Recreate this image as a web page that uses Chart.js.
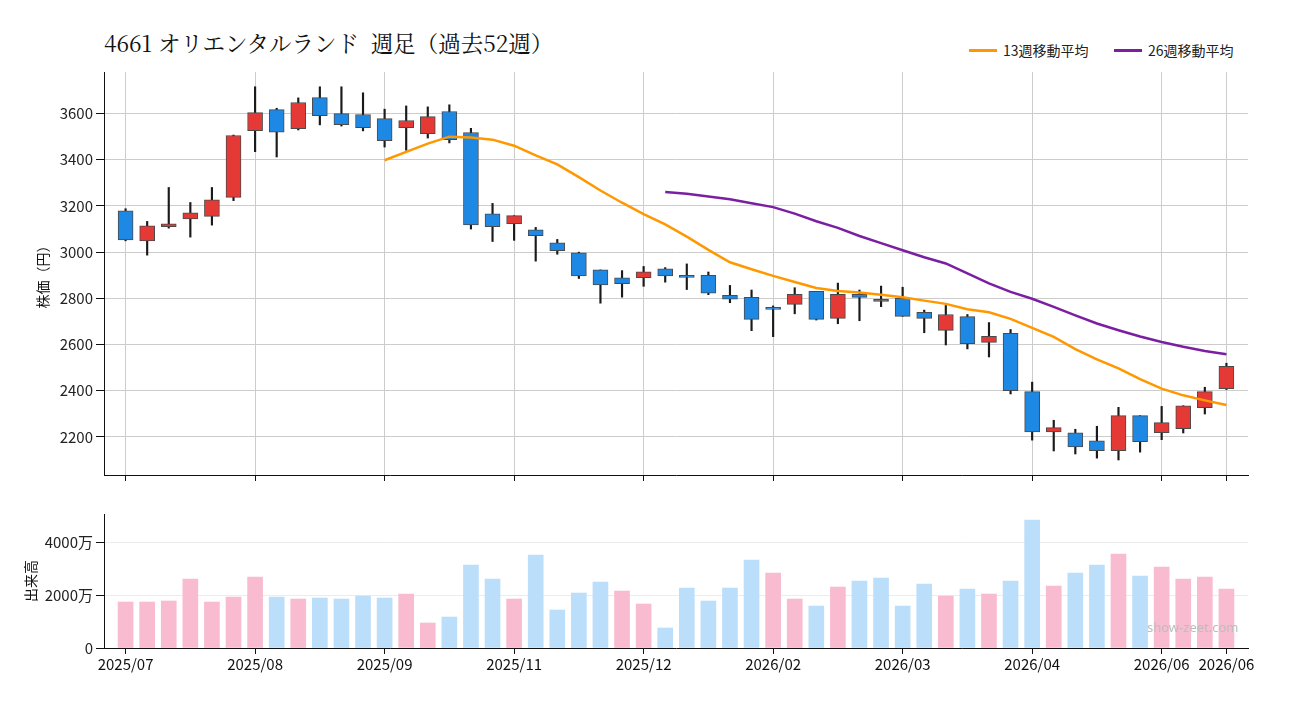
<!DOCTYPE html>
<html>
<head>
<meta charset="utf-8">
<script src="https://cdn.jsdelivr.net/npm/chart.js@4.4.0/dist/chart.umd.min.js"></script>
<style>
  body { margin: 0; background: #fff; width: 1300px; height: 720px; position: relative; overflow: hidden; }
  canvas { position: absolute; left: 0; }
  #title { position: absolute; left: 104px; top: 31px; font-size: 22.5px; line-height: 22px; color: #111; white-space: pre;
           font-family: "Noto Serif CJK JP", "Liberation Serif", "DejaVu Serif", "Noto Sans CJK JP", serif; }
  .leg { position: absolute; top: 40px; display: flex; align-items: center; font: 14px "Noto Sans CJK JP", sans-serif; color: #222; }
  .leg span { display: inline-block; width: 28px; height: 3px; margin-right: 6px; }
  #mark { position: absolute; left: 1147px; top: 618px; font: 13px "Noto Sans", sans-serif; color: #bdbdbd; }
</style>
</head>
<body>
<div id="title">4661 オリエンタルランド  週足（過去52週）</div>
<div class="leg" style="left:969px"><span style="background:#ff9800"></span>13週移動平均</div>
<div class="leg" style="left:1114px"><span style="background:#7b1fa2"></span>26週移動平均</div>
<canvas id="price" width="1300" height="500" style="top:0"></canvas>
<canvas id="vol" width="1300" height="220" style="top:500px"></canvas>
<div id="mark">show-zeet.com</div>
<script>
// weekly candles, oldest first
const opens  = [3179,3049,3110,3144,3155,3237,3526,3617,3535,3669,3600,3596,3578,3539,3513,3609,3518,3166,3123,3097,3040,2997,2923,2889,2889,2928,
                2900,2900,2813,2804,2761,2774,2830,2713,2817,2787,2800,2739,2661,2721,2609,2648,2396,2222,2218,2183,2140,2292,2218,2236,2327,2409];
const closes = [3053,3114,3123,3170,3227,3505,3604,3519,3648,3591,3552,3539,3483,3570,3587,3487,3118,3110,3158,3071,3006,2897,2858,2863,2915,2897,
                2891,2822,2796,2709,2752,2817,2709,2817,2804,2787,2722,2713,2730,2604,2635,2400,2222,2240,2157,2140,2292,2179,2262,2335,2396,2506];
const highs  = [3188,3133,3280,3215,3280,3507,3716,3623,3668,3716,3716,3690,3619,3633,3629,3638,3536,3211,3158,3107,3055,3000,2923,2920,2938,2933,
                2949,2914,2856,2836,2767,2846,2830,2866,2836,2853,2848,2749,2769,2730,2695,2665,2437,2272,2233,2246,2328,2292,2332,2335,2415,2519];
const lows   = [3049,2987,3104,3065,3117,3223,3435,3412,3529,3551,3546,3525,3455,3441,3494,3473,3100,3046,3051,2961,2991,2886,2779,2805,2852,2870,
                2838,2816,2781,2660,2634,2733,2706,2690,2703,2764,2722,2651,2598,2581,2546,2386,2186,2139,2126,2108,2100,2134,2188,2217,2299,2405];
// volume, in 万 shares
const vols   = [1736,1736,1774,2604,1736,1925,2680,1925,1849,1887,1849,1962,1887,2038,944,1170,3132,2604,1849,3510,1434,2076,2491,2151,1661,755,
                2264,1774,2264,3321,2830,1849,1585,2302,2529,2642,1585,2415,1962,2227,2038,2529,4831,2340,2830,3132,3548,2717,3057,2604,2680,2227];
const ma13 = [null,null,null,null,null,null,null,null,null,null,null,null,3398,3434,3470,3500,3496,3487,3461,3419,3380,3325,3267,3214,3165,3120,
              3067,3010,2956,2926,2897,2871,2845,2832,2825,2816,2805,2790,2776,2753,2740,2711,2672,2633,2580,2536,2497,2450,2409,2380,2358,2338];
const ma26 = [null,null,null,null,null,null,null,null,null,null,null,null,null,null,null,null,null,null,null,null,null,null,null,null,null,3260,
              3253,3241,3229,3212,3195,3167,3134,3105,3070,3039,3008,2978,2951,2908,2865,2828,2798,2763,2726,2691,2662,2635,2611,2590,2572,2558];

const tickIdx    = [0, 6, 12, 18, 24, 30, 36, 42, 48, 51];
const tickLabels = ['2025/07','2025/08','2025/09','2025/11','2025/12','2026/02','2026/03','2026/04','2026/06','2026/06'];
const priceTicks = [2200, 2400, 2600, 2800, 3000, 3200, 3400, 3600];
const volTicks   = [0, 2000, 4000];

const FONT = '"Noto Sans CJK JP", "Noto Sans", sans-serif';
const weeks = opens.map((_, i) => i);

const bodyColors = weeks.map(i => closes[i] > opens[i] ? '#e53935' : (closes[i] < opens[i] ? '#1e88e5' : '#555555'));
const volColors = weeks.map(i => (i === 0 || closes[i] >= closes[i - 1]) ? '#f8bbd0' : '#bbdefb');

function xAxis(extra) {
    return Object.assign({
        type: 'linear', min: -1, max: 52, offset: false,
        border: { color: '#111', width: 1 },
        afterBuildTicks: s => { s.ticks = tickIdx.map(v => ({ value: v })); }
    }, extra);
}

new Chart(document.getElementById('price'), {
    type: 'bar',
    data: {
        datasets: [
            { type: 'line', label: '13週移動平均', data: weeks.map(i => ({ x: i, y: ma13[i] })), borderColor: '#ff9800', borderWidth: 2.5, pointRadius: 0, tension: 0, spanGaps: false, order: 1 },
            { type: 'line', label: '26週移動平均', data: weeks.map(i => ({ x: i, y: ma26[i] })), borderColor: '#7b1fa2', borderWidth: 2.5, pointRadius: 0, tension: 0, spanGaps: false, order: 1 },
            { label: 'body', data: weeks.map(i => ({ x: i, y: [opens[i], closes[i]] })), backgroundColor: bodyColors, borderColor: '#4a4a4a', borderWidth: 1,
              borderSkipped: false, barThickness: 15, grouped: false, minBarLength: 2, order: 2 },
            { label: 'wick', data: weeks.map(i => ({ x: i, y: [lows[i], highs[i]] })), backgroundColor: '#1a1a1a', borderWidth: 0,
              barThickness: 1.5, grouped: false, order: 3 }
        ]
    },
    options: {
        responsive: false, animation: false, devicePixelRatio: 1,
        layout: { padding: { left: 0, right: 52, top: 72, bottom: 17 } },
        plugins: { legend: { display: false }, tooltip: { enabled: false } },
        scales: {
            x: xAxis({
                grid: { offset: false, color: '#cccccc', tickColor: '#111', tickLength: 6 },
                ticks: { display: false },
                afterFit: s => { s.height = 8; }
            }),
            y: {
                min: 2035, max: 3780,
                grid: { color: '#cccccc', tickColor: '#111', tickLength: 8 },
                border: { color: '#111', width: 1 },
                ticks: { font: { family: FONT, size: 15 }, color: '#222', padding: 3, callback: v => String(v) },
                afterBuildTicks: s => { s.ticks = priceTicks.map(v => ({ value: v })); },
                title: { display: true, text: '株価（円）', font: { family: FONT, size: 14 }, color: '#111', padding: { top: 34, bottom: 0 } },
                afterFit: s => { s.width = 104; }
            }
        }
    }
});

new Chart(document.getElementById('vol'), {
    type: 'bar',
    data: {
        datasets: [
            { label: '出来高', data: weeks.map(i => ({ x: i, y: vols[i] })), backgroundColor: volColors, borderWidth: 0, barThickness: 15, grouped: false }
        ]
    },
    options: {
        responsive: false, animation: false, devicePixelRatio: 1,
        layout: { padding: { left: 0, right: 52, top: 14, bottom: 42 } },
        plugins: { legend: { display: false }, tooltip: { enabled: false } },
        scales: {
            x: xAxis({
                grid: { offset: false, drawOnChartArea: false, tickColor: '#111', tickLength: 6 },
                ticks: { autoSkip: false, maxRotation: 0, font: { family: FONT, size: 15 }, color: '#111', padding: 1,
                         callback: v => tickLabels[tickIdx.indexOf(v)] },
                afterFit: s => { s.height = 30; }
            }),
            y: {
                min: 0, max: 5060,
                grid: { color: '#ececec', tickColor: '#111', tickLength: 8 },
                border: { color: '#111', width: 1 },
                ticks: { font: { family: FONT, size: 15 }, color: '#222', padding: 3, callback: v => v === 0 ? '0' : v + '万' },
                afterBuildTicks: s => { s.ticks = volTicks.map(v => ({ value: v })); },
                title: { display: true, text: '出来高', font: { family: FONT, size: 14 }, color: '#111', padding: { top: 22, bottom: 0 } },
                afterFit: s => { s.width = 104; }
            }
        }
    }
});
</script>
</body>
</html>
